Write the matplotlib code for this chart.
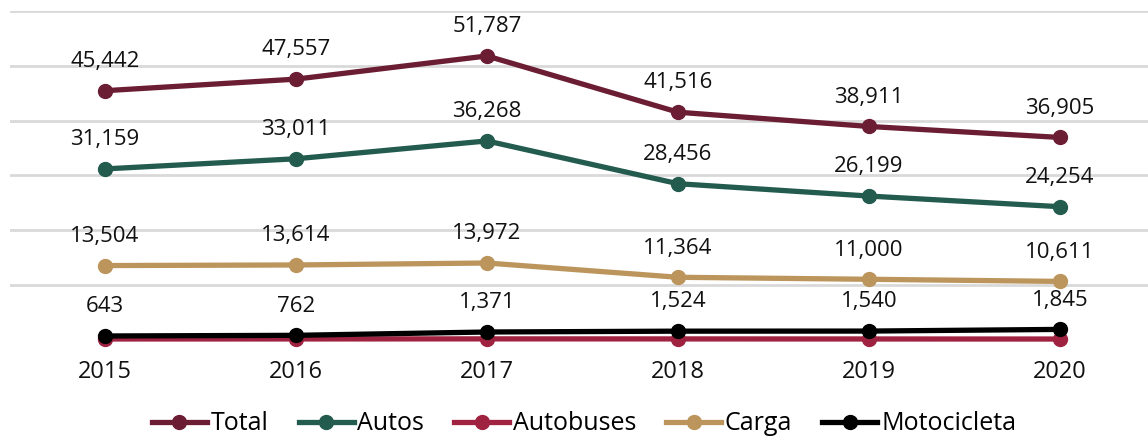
import matplotlib
matplotlib.use("Agg")
import matplotlib.pyplot as plt
from matplotlib.lines import Line2D

plt.rcParams['font.family'] = ['Open Sans', 'DejaVu Sans']

years = ["2015", "2016", "2017", "2018", "2019", "2020"]
total = [45442, 47557, 51787, 41516, 38911, 36905]
autos = [31159, 33011, 36268, 28456, 26199, 24254]
autobuses = [95, 100, 115, 105, 95, 85]
carga = [13504, 13614, 13972, 11364, 11000, 10611]
motocicleta = [643, 762, 1371, 1524, 1540, 1845]

series_names = ["Total", "Autos", "Autobuses", "Carga", "Motocicleta"]
colors = ["#6B1D34", "#235B4E", "#9F2241", "#BC955C", "#000000"]
series = [total, autos, autobuses, carga, motocicleta]
labelled = [True, True, False, True, True]

W, H = 1148, 437
fig = plt.figure(figsize=(W / 100, H / 100), dpi=100)
left, right = 9.5 / W, 1.0
bottom, top = 1 - 339.5 / H, 1 - 11 / H
ax = fig.add_axes([left, bottom, right - left, top - bottom])

x = list(range(len(years)))
for vals, name, col, lab in zip(series, series_names, colors, labelled):
    ax.plot(x, vals, color=col, lw=3.8, marker='o', ms=10, label=name,
            solid_capstyle='round', clip_on=False)
    if lab:
        for xi, v in zip(x, vals):
            ax.annotate(f"{v:,}", (xi, v), xytext=(0, 13.5), textcoords='offset points',
                        ha='center', va='bottom', fontsize=16, color='#111111')

ax.set_ylim(0, 60000)
ax.set_xlim(-0.5, 5.5 - 7.5 / 191)
ax.set_yticks(range(10000, 60001, 10000))
ax.yaxis.grid(True, color='#d9d9d9', lw=2)
ax.set_axisbelow(True)
ax.tick_params(axis='y', left=False, labelleft=False)
ax.set_xticks(x)
ax.set_xticklabels(years, fontsize=17, color='#111111')
ax.tick_params(axis='x', length=0, pad=15)
for s in ax.spines.values():
    s.set_visible(False)

handles = [Line2D([0], [0], color=c, lw=3.8, marker='o', ms=10) for c in colors]
fig.legend(handles, series_names, loc='center', bbox_to_anchor=(584 / W, 1 - 424 / H),
           ncol=5, frameon=False, fontsize=18, handlelength=2.2, handletextpad=0.15,
           columnspacing=1.2)

fig.savefig("out.png", dpi=100)
